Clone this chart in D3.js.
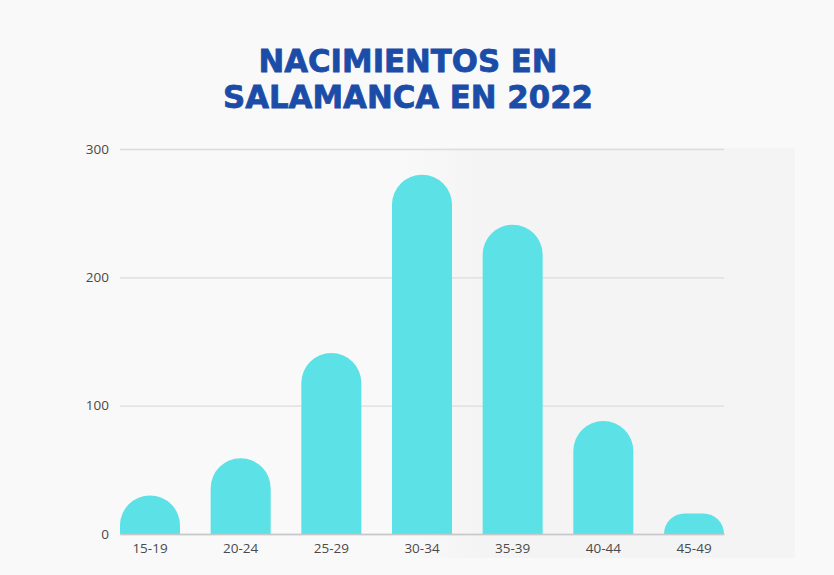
<!DOCTYPE html>
<html>
<head>
<meta charset="utf-8">
<script src="https://cdn.jsdelivr.net/npm/d3@7"></script>
<style>
  html, body { margin: 0; padding: 0; background: #f9f9f9; }
  svg { display: block; }
</style>
</head>
<body>
<svg id="chart" width="834" height="575"></svg>
<script>
const categories = ["15-19", "20-24", "25-29", "30-34", "35-39", "40-44", "45-49"];
const births = [30, 59, 141, 280, 241, 88, 16];
const yTicks = [0, 100, 200, 300];
const titleLines = ["NACIMIENTOS EN", "SALAMANCA EN 2022"];

const svg = d3.select("#chart");
const W = 834, H = 575;
const mLeft = 120, mRight = 724, mTop = 149, mBottom = 534;

svg.append("rect").attr("width", W).attr("height", H).attr("fill", "#f9f9f9");

// subtle shaded panel on the right
const defs = svg.append("defs");
const grad = defs.append("linearGradient").attr("id", "panel").attr("x1", "0").attr("x2", "1");
grad.append("stop").attr("offset", "0").attr("stop-color", "#f4f4f4").attr("stop-opacity", 0);
grad.append("stop").attr("offset", "0.2").attr("stop-color", "#f4f4f4").attr("stop-opacity", 1);
grad.append("stop").attr("offset", "1").attr("stop-color", "#f4f4f4").attr("stop-opacity", 1);
svg.append("rect").attr("x", 400).attr("y", 148).attr("width", 395).attr("height", 410).attr("fill", "url(#panel)");

// title
const titleWidths = [299, 370];
svg.append("g").selectAll("text").data(titleLines).join("text")
  .attr("x", 408).attr("y", (d, i) => 72 + i * 36)
  .attr("text-anchor", "middle")
  .attr("font-family", "'DejaVu Sans', sans-serif")
  .attr("font-weight", 700)
  .attr("font-size", 32)
  .attr("textLength", (d, i) => titleWidths[i])
  .attr("lengthAdjust", "spacingAndGlyphs")
  .attr("stroke", "#1a4ca8")
  .attr("stroke-width", 0.8)
  .attr("fill", "#1a4ca8")
  .text(d => d);

const x = d3.scaleBand().domain(categories).range([mLeft, mRight]).paddingInner(0.338).paddingOuter(0);
const y = d3.scaleLinear().domain([0, 300]).range([mBottom, mTop]);

// gridlines
const yAxis = d3.axisLeft(y).tickValues(yTicks).tickSize(-(mRight - mLeft)).tickPadding(11).tickFormat(d3.format("d"));
const gy = svg.append("g").attr("transform", `translate(${mLeft},0)`).call(yAxis);
gy.select(".domain").remove();
gy.selectAll(".tick line").attr("stroke", "#dcdcdc").attr("stroke-width", 1.3);
gy.selectAll(".tick text").attr("fill", "#4a4a4a").attr("font-size", 13.5)
  .attr("font-family", "'Open Sans', sans-serif");

// bars with rounded tops
function barPath(d, i) {
  const x0 = x(categories[i]), w = x.bandwidth();
  const yb = y(0), yt = y(d);
  const h = yb - yt;
  const r = Math.min(w / 2, h);
  return `M${x0},${yb} L${x0},${yt + r} A${r},${r} 0 0 1 ${x0 + r},${yt} L${x0 + w - r},${yt} A${r},${r} 0 0 1 ${x0 + w},${yt + r} L${x0 + w},${yb} Z`;
}
svg.append("g").selectAll("path").data(births).join("path")
  .attr("d", barPath)
  .attr("fill", "#5ce1e6");

// x axis
const xAxis = d3.axisBottom(x).tickSize(0).tickPadding(9);
const gx = svg.append("g").attr("transform", `translate(0,${mBottom})`).call(xAxis);
gx.select(".domain").attr("stroke", "#c8c8c8").attr("stroke-width", 1.3);
gx.selectAll(".tick text").attr("fill", "#4a4a4a").attr("font-size", 13.5)
  .attr("font-family", "'Open Sans', sans-serif");
</script>
</body>
</html>
